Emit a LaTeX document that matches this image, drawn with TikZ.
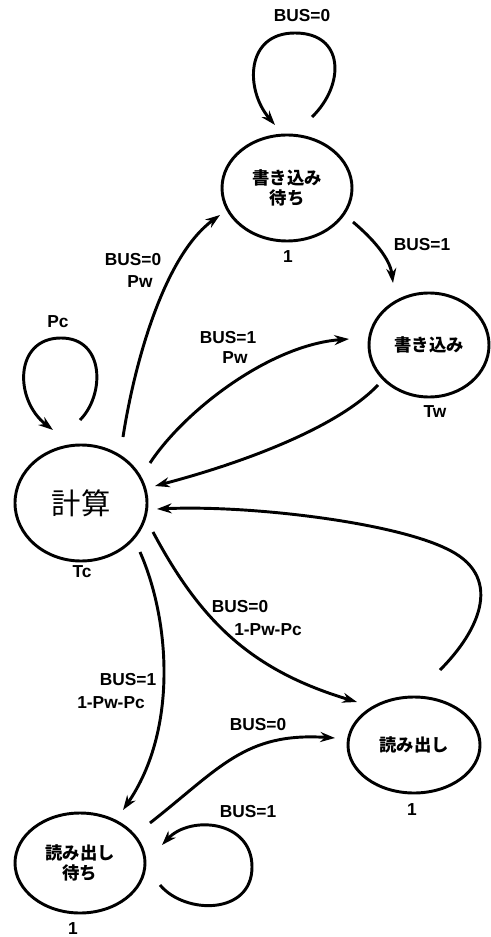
\documentclass[tikz,border=0pt]{standalone}
\usepackage{fontspec}
\setmainfont{Liberation Sans}
\newfontfamily\jp{Noto Sans CJK JP}
\usetikzlibrary{shapes.geometric,arrows.meta}
\begin{document}
\begin{tikzpicture}[x=0.75pt,y=-0.75pt,
  st/.style={draw,ellipse,line width=2.2pt,inner sep=0pt,align=center,
    font=\jp\bfseries\fontsize{13}{15}\selectfont},
  lbl/.style={font=\bfseries\fontsize{13}{15}\selectfont,align=center,inner sep=0pt},
  conn/.style={line width=2.2pt,-{Stealth[length=11pt,width=7.5pt]}}]
\useasboundingbox (0,0) rectangle (491,937);

% states
\node[st,minimum width=97.5pt,minimum height=79.5pt] (ww) at (287,188) {書き込み\\待ち};
\node[st,minimum width=90pt,minimum height=78pt] (w) at (429,345) {書き込み};
\node[st,minimum width=99pt,minimum height=87pt,font=\jp\fontsize{22}{26}\selectfont] (c) at (81,503) {計算};
\node[st,minimum width=99pt,minimum height=72pt] (r) at (414,745) {読み出し};
\node[st,minimum width=97.5pt,minimum height=75pt] (rw) at (80,863) {読み出し\\待ち};

% weights under states
\node[lbl] (lww) at (288,257) {1};
\node[lbl] (lw) at (435,412) {Tw};
\node[lbl] (lc) at (82,572) {Tc};
\node[lbl] (lr) at (412,810) {1};
\node[lbl] (lrw) at (73,929) {1};

% self loops
\draw[conn] ([shift={(25,-71)}]ww.center) .. controls (345,85) and (345,33) .. (295,33)
  .. controls (245,33) and (245,90) .. ([shift={(-12,-63)}]ww.center);
\node[lbl] (t1) at (302,16) {BUS=0};

\draw[conn] ([shift={(-1,-83)}]c.center) .. controls (105,395) and (105,338) .. (61,338)
  .. controls (14,338) and (14,400) .. ([shift={(-28,-73)}]c.center);
\node[lbl] (t2) at (58,322) {Pc};

\draw[conn] ([shift={(80,22)}]rw.center) .. controls (185,915) and (252,915) .. (252,867)
  .. controls (252,820) and (190,815) .. ([shift={(82,-18)}]rw.center);
\node[lbl] (t3) at (248,812) {BUS=1};

% transitions
\draw[conn] ([shift={(42,-66)}]c.center) .. controls (135,360) and (165,255) .. ([shift={(-67,27)}]ww.center);
\node[lbl] (t4) at (133,260) {BUS=0};
\node[lbl] (t5) at (140,282) {Pw};

\draw[conn] ([shift={(66,34)}]ww.center) .. controls (372,238) and (390,258) .. ([shift={(-36,-62)}]w.center);
\node[lbl] (t6) at (422,245) {BUS=1};

\draw[conn] ([shift={(69,-40)}]c.center) .. controls (185,410) and (270,345) .. ([shift={(-80,-6)}]w.center);
\node[lbl] (t7) at (228,338) {BUS=1};
\node[lbl] (t8) at (235,358) {Pw};

\draw[conn] ([shift={(-51,40)}]w.center) .. controls (335,430) and (235,465) .. ([shift={(74,-17)}]c.center);

\draw[conn] ([shift={(26,-75)}]r.center) .. controls (480,630) and (505,575) .. (445,548)
  .. controls (390,522) and (250,505) .. ([shift={(76,6)}]c.center);

\draw[conn] ([shift={(72,29)}]c.center) .. controls (200,620) and (250,670) .. ([shift={(-57,-43)}]r.center);
\node[lbl] (t9) at (240,607) {BUS=0};
\node[lbl] (t10) at (268,630) {1-Pw-Pc};

\draw[conn] ([shift={(59,49)}]c.center) .. controls (170,620) and (178,730) .. ([shift={(43,-53)}]rw.center);
\node[lbl] (t11) at (128,680) {BUS=1};
\node[lbl] (t12) at (111,703) {1-Pw-Pc};

\draw[conn] ([shift={(70,-40)}]rw.center) .. controls (220,768) and (245,732) .. ([shift={(-79,-7)}]r.center);
\node[lbl] (t13) at (258,725) {BUS=0};
\end{tikzpicture}
\end{document}
